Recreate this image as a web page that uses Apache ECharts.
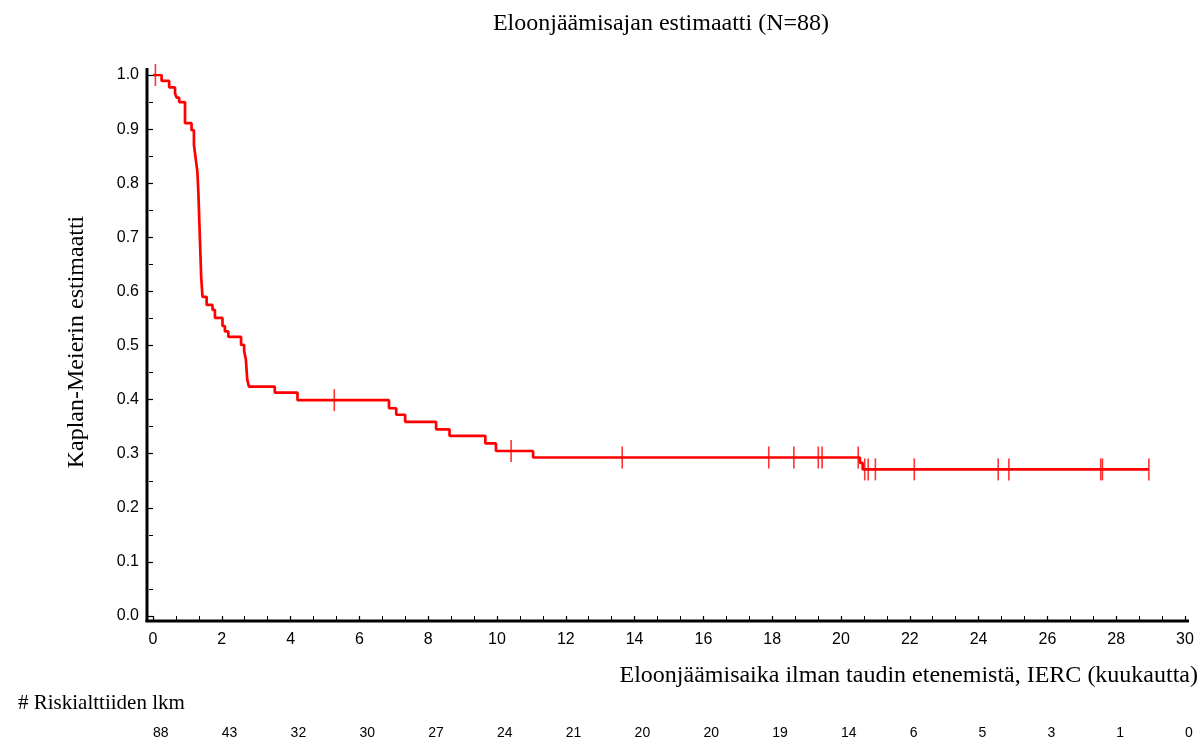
<!DOCTYPE html>
<html>
<head>
<meta charset="utf-8">
<script src="https://cdn.jsdelivr.net/npm/echarts@6/dist/echarts.min.js"></script>
<style>
html,body{margin:0;padding:0;background:#fff;}
#chart{width:1201px;height:740px;}
</style>
</head>
<body>
<div id="chart"></div>
<script>
// ---- data ----
const eventTimes = [0, 0.25, 0.47, 0.64, 0.69, 0.76, 0.93, 1.12, 1.19, 1.24, 1.29, 1.32, 1.36, 1.40, 1.44, 1.56, 1.73, 1.80, 2.02, 2.09, 2.19, 2.56, 2.65, 2.70, 2.74, 2.79, 3.54, 4.20, 6.86, 7.07, 7.33, 8.23, 8.62, 9.66, 9.97, 11.05, 20.55, 20.63, 28.95];
const survival   = [1.0, 0.989, 0.977, 0.966, 0.958, 0.950, 0.911, 0.898, 0.871, 0.846, 0.821, 0.781, 0.704, 0.627, 0.590, 0.575, 0.566, 0.551, 0.536, 0.526, 0.516, 0.501, 0.490, 0.474, 0.437, 0.424, 0.413, 0.399, 0.384, 0.372, 0.359, 0.345, 0.333, 0.319, 0.305, 0.293, 0.283, 0.271, 0.271];
const censorTimes = [0.07, 5.27, 10.41, 13.64, 17.90, 18.63, 19.34, 19.45, 20.50, 20.69, 20.79, 21.00, 22.13, 24.57, 24.88, 27.55, 27.60, 28.95];
const riskTicks = [0, 2, 4, 6, 8, 10, 12, 14, 16, 18, 20, 22, 24, 26, 28, 30];
const atRisk    = [88, 43, 32, 30, 27, 24, 21, 20, 20, 19, 14, 6, 5, 3, 1, 0];

const titleText = 'Eloonjäämisajan estimaatti (N=88)';
const xTitle = 'Eloonjäämisaika ilman taudin etenemistä, IERC (kuukautta)';
const yTitle = 'Kaplan-Meierin estimaatti';
const riskTitle = '# Riskialttiiden lkm';

// ---- build series data ----
const curve = eventTimes.map((t, i) => [t, survival[i]]);
function survAt(t) {
  let s = survival[0];
  for (let i = 0; i < eventTimes.length; i++) { if (eventTimes[i] <= t) s = survival[i]; }
  return s;
}
const censors = censorTimes.map(t => [t, survAt(t)]);

const serif = "'Liberation Serif', 'DejaVu Serif', serif";
const narrow = "'Liberation Sans Narrow', 'Liberation Sans', Arial, sans-serif";

const chart = echarts.init(document.getElementById('chart'), null, {renderer: 'canvas'});
const G = {left: 153, top: 75, right: 16, bottom: 124};

chart.setOption({
  animation: false,
  backgroundColor: '#ffffff',
  grid: {left: G.left, top: G.top, right: G.right, bottom: G.bottom, containLabel: false},
  xAxis: [{
    type: 'value', min: 0, max: 30, interval: 2, offset: 5,
    axisLine: {show: false},
    axisTick: {show: true, length: 5, lineStyle: {color: '#000', width: 1.2}},
    minorTick: {show: true, splitNumber: 3, length: 4, lineStyle: {color: '#000', width: 1}},
    splitLine: {show: false},
    axisLabel: {show: true, margin: 11, fontFamily: narrow, fontSize: 16, color: '#000',
      showMinLabel: true, showMaxLabel: true}
  }, {
    type: 'value', min: 0, max: 30, interval: 2, offset: 109, position: 'bottom',
    axisLine: {show: false}, axisTick: {show: false}, splitLine: {show: false},
    axisLabel: {show: true, margin: 1, align: 'left', fontFamily: narrow, fontSize: 14, color: '#000',
      showMinLabel: true, showMaxLabel: true,
      formatter: v => { const i = riskTicks.indexOf(Math.round(v)); return i >= 0 ? String(atRisk[i]) : ''; }}
  }],
  yAxis: {
    type: 'value', min: 0, max: 1, interval: 0.1, offset: 6,
    axisLine: {show: false},
    axisTick: {show: true, length: 5, lineStyle: {color: '#000', width: 1.2}},
    minorTick: {show: true, splitNumber: 2, length: 4, lineStyle: {color: '#000', width: 1}},
    splitLine: {show: false},
    axisLabel: {margin: 8, fontFamily: narrow, fontSize: 16, color: '#000', formatter: v => v.toFixed(1)}
  },
  series: [{
    type: 'line', step: 'end', data: curve, showSymbol: false, symbol: 'none',
    lineStyle: {color: '#ff0000', width: 2.7}, z: 3
  }, {
    type: 'scatter', data: censors, symbol: 'rect', symbolSize: [1.6, 22],
    itemStyle: {color: '#ff0000'}, z: 4
  }],
  graphic: [
    {type: 'line', shape: {x1: 147, y1: 68, x2: 147, y2: 622}, style: {stroke: '#000', lineWidth: 3}},
    {type: 'line', shape: {x1: 145.5, y1: 621, x2: 1189, y2: 621}, style: {stroke: '#000', lineWidth: 3}},
    {type: 'text', x: 661, y: 24, style: {text: titleText, font: '24px ' + serif, fill: '#000', textAlign: 'center', textVerticalAlign: 'middle'}},
    {type: 'text', x: 1198, y: 676, style: {text: xTitle, font: '24px ' + serif, fill: '#000', textAlign: 'right', textVerticalAlign: 'middle'}},
    {type: 'text', x: 77, y: 342, rotation: Math.PI / 2, style: {text: yTitle, font: '24px ' + serif, fill: '#000', textAlign: 'center', textVerticalAlign: 'middle'}},
    {type: 'text', x: 18, y: 703, style: {text: riskTitle, font: '21px ' + serif, fill: '#000', textAlign: 'left', textVerticalAlign: 'middle'}}
  ]
});
</script>
</body>
</html>
